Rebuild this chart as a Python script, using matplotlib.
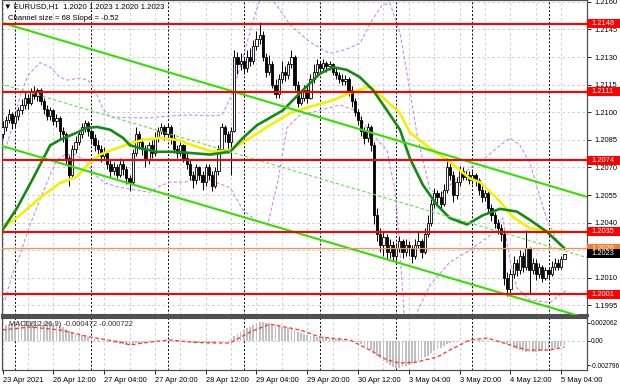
import matplotlib
matplotlib.use("Agg")
import matplotlib.pyplot as plt
import matplotlib.transforms as mtransforms
from matplotlib.patches import Rectangle
import numpy as np

plt.rcParams['font.family'] = ['Liberation Sans', 'DejaVu Sans']

# EURUSD H1 bars, prices in pips (12092 -> 1.2092); open of a bar = previous close
first_open = 12088
closes = [12092, 12096, 12099, 12094, 12098, 12101, 12104, 12108, 12105, 12111,
          12109, 12112, 12106, 12102, 12098, 12101, 12095, 12097, 12090, 12088,
          12075, 12066, 12080, 12084, 12088, 12092, 12094, 12090, 12086, 12082,
          12080, 12076, 12078, 12072, 12068, 12070, 12066, 12072, 12069, 12064,
          12062, 12078, 12088, 12084, 12080, 12074, 12082, 12078, 12086, 12090,
          12092, 12088, 12092, 12086, 12080, 12078, 12082, 12075, 12072, 12066,
          12063, 12070, 12066, 12062, 12070, 12066, 12060, 12068, 12080, 12092,
          12088, 12084, 12090, 12130, 12126, 12128, 12124, 12130, 12128, 12136,
          12140, 12142, 12130, 12122, 12126, 12115, 12110, 12118, 12122, 12120,
          12126, 12130, 12115, 12105, 12108, 12112, 12108, 12118, 12122, 12126,
          12124, 12127, 12125, 12126, 12122, 12120, 12118, 12117, 12118, 12112,
          12106, 12100, 12096, 12090, 12086, 12092, 12082, 12044, 12034, 12028,
          12032, 12024, 12028, 12022, 12026, 12030, 12024, 12028, 12026, 12022,
          12028, 12030, 12024, 12034, 12040, 12050, 12056, 12054, 12050, 12058,
          12070, 12066, 12055, 12062, 12068, 12065, 12066, 12063, 12066, 12063,
          12058, 12054, 12056, 12048, 12044, 12040, 12037, 12034, 12010, 12004,
          12012, 12018, 12014, 12022, 12016, 12026, 12014, 12018, 12012, 12016,
          12010, 12014, 12012, 12016, 12018, 12016, 12020, 12023]
highs = [12095, 12098, 12102, 12100, 12100, 12103, 12107, 12111, 12110, 12113,
         12114, 12113, 12113, 12108, 12104, 12103, 12102, 12099, 12098, 12092,
         12089, 12077, 12082, 12087, 12090, 12094, 12096, 12095, 12091, 12088,
         12085, 12082, 12081, 12079, 12074, 12073, 12072, 12075, 12074, 12071,
         12066, 12080, 12092, 12090, 12086, 12082, 12084, 12085, 12089, 12092,
         12094, 12093, 12094, 12093, 12088, 12082, 12084, 12083, 12078, 12074,
         12068, 12072, 12071, 12068, 12072, 12072, 12068, 12070, 12082, 12094,
         12093, 12090, 12092, 12134, 12133, 12132, 12130, 12134, 12135, 12139,
         12144, 12149, 12144, 12132, 12131, 12128, 12118, 12121, 12128, 12125,
         12128, 12134, 12131, 12117, 12112, 12115, 12114, 12121, 12126, 12129,
         12128, 12129, 12128, 12128, 12127, 12124, 12122, 12121, 12120, 12119,
         12114, 12108, 12102, 12098, 12092, 12094, 12093, 12084, 12048, 12037,
         12035, 12034, 12031, 12030, 12029, 12033, 12031, 12031, 12030, 12028,
         12031, 12035, 12031, 12037, 12044, 12053, 12059, 12058, 12057, 12061,
         12075, 12073, 12068, 12065, 12071, 12070, 12068, 12068, 12068, 12067,
         12064, 12060, 12058, 12057, 12050, 12046, 12042, 12039, 12036, 12013,
         12015, 12022, 12020, 12025, 12024, 12036, 12027, 12021, 12020, 12018,
         12017, 12016, 12016, 12019, 12021, 12020, 12022, 12023]
lows = [12086, 12090, 12094, 12091, 12092, 12096, 12099, 12102, 12102, 12104,
        12107, 12106, 12104, 12099, 12096, 12096, 12093, 12092, 12085, 12084,
        12072, 12060, 12064, 12078, 12082, 12086, 12089, 12087, 12083, 12079,
        12077, 12073, 12074, 12069, 12065, 12066, 12064, 12065, 12066, 12061,
        12057, 12061, 12076, 12080, 12077, 12070, 12072, 12075, 12076, 12084,
        12088, 12085, 12086, 12083, 12078, 12075, 12076, 12073, 12069, 12063,
        12059, 12061, 12063, 12058, 12060, 12063, 12057, 12059, 12066, 12078,
        12084, 12078, 12066, 12089, 12121, 12123, 12121, 12122, 12125, 12126,
        12134, 12137, 12128, 12119, 12120, 12113, 12108, 12108, 12116, 12117,
        12118, 12124, 12112, 12103, 12104, 12106, 12105, 12107, 12116, 12120,
        12121, 12122, 12122, 12123, 12120, 12118, 12116, 12115, 12115, 12109,
        12103, 12098, 12093, 12087, 12083, 12084, 12079, 12039, 12030, 12024,
        12022, 12020, 12021, 12019, 12020, 12024, 12021, 12022, 12022, 12018,
        12020, 12026, 12021, 12023, 12032, 12038, 12048, 12050, 12048, 12049,
        12056, 12063, 12051, 12053, 12060, 12063, 12063, 12061, 12061, 12060,
        12055, 12051, 12052, 12045, 12041, 12037, 12034, 12030, 12006, 12000,
        12002, 12010, 12011, 12012, 12013, 12014, 12002, 12012, 12009, 12010,
        12008, 12009, 12010, 12011, 12014, 12014, 12015, 12020]

# moving averages (bar index, pips)
green_ma_bars = [0, 4.6, 9.6, 15, 18.1, 23.5, 26.6, 29.8, 33.9, 38, 40.2, 43.3, 48.7, 53.7, 58.1,
                 65.4, 71.7, 75.7, 80.2, 88.3, 93.7, 100, 104.1, 108.5, 112.6, 116.7, 121.1, 125.2,
                 128.3, 132.4, 136.9, 140.9, 146.3, 151.3, 156.7, 162, 166.1, 171.5, 177]
green_ma_vals = [12036, 12048, 12064, 12082, 12085, 12089, 12091.5, 12092, 12090.5, 12086, 12082,
                 12080.5, 12078.5, 12078.5, 12078, 12077, 12078.5, 12086, 12093, 12101, 12110.5,
                 12121, 12124.5, 12123, 12119, 12112, 12101, 12090.5, 12075, 12060.5, 12049.5,
                 12042.5, 12039, 12044, 12047.5, 12046, 12041.5, 12035, 12026]
yellow_ma_bars = [0, 5.5, 11.8, 18.1, 23.5, 26.6, 30.7, 36.1, 40.2, 44.3, 49.6, 55, 60, 66.3, 71.7,
                  78, 83.3, 90.6, 96.9, 104.1, 109.4, 115.7, 119.8, 125.2, 128.3, 134.6, 140.9,
                  147.2, 150.4, 156.7, 160.8, 166.1, 171.5, 177]
yellow_ma_vals = [12037, 12044, 12053.5, 12061.5, 12065, 12071, 12077, 12080.5, 12083, 12085, 12086,
                  12085, 12082, 12078.5, 12079.5, 12086, 12092, 12099.5, 12103, 12106.5, 12110.5,
                  12114, 12108, 12099.5, 12089, 12080.5, 12073, 12064, 12062, 12051.5, 12043, 12037,
                  12035.5, 12035]

# envelope bands (purple dashed)
band_up_bars = [0.8, 3.3, 5.5, 8, 11.8, 15, 18.1, 20.3, 24.4, 26.9, 29.1, 31.7, 33.9, 40.2, 46.5,
                52.8, 59.1, 65.4, 69.1, 72.3, 76.4, 79.5, 81.7, 85.8, 90.6, 96.9, 103.1, 107.9,
                112.6, 116.4, 119.5, 122, 125.2, 128.3, 130.6, 134.6, 137.8, 142.5, 147.2, 151.9,
                156.7, 159.8, 163, 166.1, 169.3, 171.5, 174.6, 177.8]
band_up_vals = [12079.5, 12093, 12108.5, 12120, 12127, 12124.5, 12119, 12117.5, 12118.5, 12117.5,
                12112, 12101.5, 12097.5, 12097, 12097, 12098, 12098.5, 12098, 12098.5, 12109.5,
                12134, 12153, 12164, 12159.5, 12147.5, 12138, 12132, 12134, 12137.5, 12150, 12158,
                12159.5, 12143, 12112, 12087.5, 12058, 12055, 12063, 12069.5, 12075, 12082, 12086,
                12082, 12072.5, 12054, 12041.5, 12030.5, 12025]
band_lo_bars = [0.8, 3, 5.5, 8.7, 11.8, 15, 17.2, 19.7, 22.8, 26, 29.1, 32.3, 36.1, 41.1, 46.5,
                49.6, 52.8, 57.5, 62.2, 66.9, 71.7, 75.7, 80.2, 83.6, 86.8, 89.6, 93.7, 100, 106.3,
                111, 114.2, 118, 121.1, 123.6, 125.2, 126.5, 128.3, 130.6, 134.6, 140.9, 147.2,
                153.5, 157.6, 159.8, 162, 166.1, 172.4, 177.8]
band_lo_vals = [11998, 12011.5, 12022.5, 12039, 12052.5, 12066, 12074, 12077, 12077, 12074, 12066,
                12061.5, 12059.5, 12058, 12056.5, 12060, 12062, 12062, 12065, 12062, 12059, 12047,
                12040.5, 12039.5, 12063, 12091.5, 12098.5, 12101, 12104, 12101, 12093, 12085,
                12079.5, 12058, 12025, 11990, 11979, 11991.5, 12006, 12018.5, 12025, 12033,
                12042.5, 12020, 12004.5, 11998, 11996.5, 12003.5]

# regression channel
channel_bars = [-0.8, 184.1]
channel_upper = [12149, 12054]
channel_mid = [12115.5, 12021]
channel_lower = [12082, 11988]

levels = [1.2148, 1.2111, 1.2074, 1.2035, 1.2001]
level_orange = 1.2026
last_price = 1.2023

# MACD (units of 1e-4)
macd_main = [17, 18, 19, 20, 21, 22, 22, 22, 23, 22,
             22, 22, 21, 21, 21, 20, 20, 19, 18, 16,
             13, 11, 9, 8, 7, 6, 5, 4, 3, 2,
             1, 0, -1, -2, -2, -3, -3, -4, -4, -5,
             -5, -4, -3, -3, -3, -2, -2, -1, -1, -1,
             0, 0, 0, 0, -1, -1, -1, -2, -2, -2,
             -3, -3, -3, -3, -3, -3, -3, -3, -2, -1,
             0, 0, 1, 5, 8, 10, 12, 14, 16, 18,
             20, 21, 21, 20, 20, 19, 18, 17, 16, 15,
             14, 13, 12, 10, 9, 8, 6, 5, 5, 4,
             4, 4, 3, 3, 3, 2, 2, 1, 1, 0,
             0, -1, -2, -4, -6, -8, -11, -14, -17, -20,
             -23, -26, -28, -30, -31, -31, -30, -29, -28, -27,
             -25, -23, -21, -19, -17, -14, -12, -10, -8, -6,
             -4, -3, -2, -1, 0, 0, 0, 1, 1, 1,
             1, 1, 0, 0, 0, -1, -1, -1, -2, -4,
             -6, -8, -10, -11, -12, -13, -13, -13, -13, -12,
             -12, -11, -10, -9, -8, -7, -6, -4.7]
signal_bars = [0, 8.7, 18.1, 27.6, 37, 40.2, 46.5, 52.8, 59.1, 65.4, 71.7, 78, 84.3, 93.7, 100,
               109.4, 115.7, 121.1, 125.2, 130.6, 136.9, 140.9, 147.2, 152.6, 159.8, 165.2, 172.4, 177]
signal_vals = [12.3, 15.7, 12.3, 4.2, -1.5, -4.9, -1.5, 0.8, -1.5, -2.6, -2.6, 10, 19, 12.3, 4.2,
               0.8, -10.7, -22, -25.6, -24.4, -18.7, -10.7, 0.8, 3.1, -4.9, -10.7, -10.7, -7.2]

price_ticks = [1.2160, 1.2145, 1.2130, 1.2115, 1.2100, 1.2085, 1.2070, 1.2055, 1.2040,
               1.2025, 1.2010, 1.1995]
date_ticks = [0, 16, 32, 48, 64, 80, 96, 112, 128, 144, 160, 176]
date_labels = ['23 Apr 2021', '26 Apr 12:00', '27 Apr 04:00', '27 Apr 20:00', '28 Apr 12:00',
               '29 Apr 04:00', '29 Apr 20:00', '30 Apr 12:00', '3 May 04:00', '3 May 20:00',
               '4 May 12:00', '5 May 04:00']
day_starts = [4, 28, 52, 76, 100, 124, 148, 172]

W, H = 620, 388
fig = plt.figure(figsize=(W / 100, H / 100), dpi=100)
fig.patch.set_facecolor('white')
ax = fig.add_axes([2 / W, 73 / H, 585 / W, 315 / H])
ax2 = fig.add_axes([2 / W, 18 / H, 585 / W, 52 / H], sharex=ax)

xmin, xmax = -0.16, 184.1
ax.set_xlim(xmin, xmax)
ax.set_ylim(1.19898, 1.21610)
ax2.set_ylim(-0.003357, 0.0026)

grid_kw = dict(color='#c8c8c8', lw=0.6, ls=(0, (3, 3)), zorder=0)
sep_kw = dict(color='black', lw=0.7, ls=(0, (2, 2)), zorder=0.5)
for a in (ax, ax2):
    a.set_facecolor('white')
    for b in range(0, 185, 8):
        a.axvline(b, **grid_kw)
    for b in day_starts:
        a.axvline(b, **sep_kw)
    for s in a.spines.values():
        s.set_color('#505050')
        s.set_linewidth(0.9)
for p in price_ticks:
    ax.axhline(p, **grid_kw)
ax2.axhline(0, **grid_kw)
ax.spines['bottom'].set_linewidth(2.2)
ax2.spines['top'].set_linewidth(1.5)

# candles
x = np.arange(len(closes))
c = np.array(closes) / 1e4
o = np.array([first_open] + closes[:-1]) / 1e4
hi = np.array(highs) / 1e4
lo = np.array(lows) / 1e4
up = c >= o
ax.vlines(x, lo, hi, color='black', lw=0.7, zorder=3)
ax.bar(x[up], (c - o)[up], bottom=o[up], width=0.7, color='white', edgecolor='black', lw=0.6, zorder=3.2)
ax.bar(x[~up], (c - o)[~up], bottom=o[~up], width=0.7, color='black', edgecolor='black', lw=0.6, zorder=3.2)

# indicators
ax.plot(band_up_bars, np.array(band_up_vals) / 1e4, color='#c58cf0', lw=0.8, ls=(0, (3, 2)), zorder=2)
ax.plot(band_lo_bars, np.array(band_lo_vals) / 1e4, color='#c58cf0', lw=0.8, ls=(0, (3, 2)), zorder=2)
ax.plot(yellow_ma_bars, np.array(yellow_ma_vals) / 1e4, color='#f5f000', lw=1.9, zorder=4)
ax.plot(green_ma_bars, np.array(green_ma_vals) / 1e4, color='#138a13', lw=1.9, zorder=4.1)

# channel
ax.plot(channel_bars, np.array(channel_upper) / 1e4, color='#33e000', lw=1.5, zorder=4.2)
ax.plot(channel_bars, np.array(channel_lower) / 1e4, color='#33e000', lw=1.5, zorder=4.2)
ax.plot(channel_bars, np.array(channel_mid) / 1e4, color='#66dd55', lw=0.8, ls=(0, (3, 2)), zorder=4.2)

# levels
for p in levels:
    ax.axhline(p, color='#ff0000', lw=1.5, zorder=4.3)
ax.axhline(level_orange, color='#ff8c50', lw=0.9, zorder=4.3)

ax.set_xlim(xmin, xmax)

# right price axis
ax.yaxis.tick_right()
ax.set_yticks(price_ticks)
ax.set_yticklabels(['%.4f' % p for p in price_ticks])
ax.tick_params(axis='y', length=3, width=0.6, pad=2, labelsize=5.4, colors='black')
ax.tick_params(axis='x', bottom=False, labelbottom=False)

trans = mtransforms.blended_transform_factory(ax.transAxes, ax.transData)
box_h = 9 / 18400
box_w = 33 / 585


def price_box(p, fc, txt_color='white'):
    ax.add_patch(Rectangle((1.0, p - box_h / 2), box_w, box_h, transform=trans,
                           facecolor=fc, edgecolor='none', clip_on=False, zorder=6))
    ax.text(1.0 + 4 / 585, p, '%.4f' % p, transform=trans, ha='left', va='center',
            fontsize=5.4, color=txt_color, clip_on=False, zorder=7)


for p in levels:
    price_box(p, '#ff0000')
price_box(level_orange, '#ff7a2a')
price_box(last_price, '#000000')

# MACD panel
ax2.bar(x, np.array(macd_main) / 1e4, width=0.55, color='#c0c0c0', zorder=2)
ax2.plot(signal_bars, np.array(signal_vals) / 1e4, color='#ff3030', lw=0.9, ls=(0, (3, 2)), zorder=3)
ax2.yaxis.tick_right()
ax2.set_yticks([0.002062, 0.0, -0.002796])
ax2.set_yticklabels(['0.002062', '0.00', '-0.002796'])
ax2.tick_params(axis='y', length=2, width=0.6, pad=1, labelsize=4.7)
ax2.set_xticks(date_ticks)
ax2.set_xticklabels(date_labels)
ax2.tick_params(axis='x', length=3, width=0.6, pad=2, labelsize=5.4)
for lbl in ax2.get_xticklabels():
    lbl.set_horizontalalignment('left')
ax2.set_xlim(xmin, xmax)

ax2.text(7 / 585, 1 - 6 / 52, 'MACD(12,26,9) -0.000472 -0.000722', transform=ax2.transAxes,
         ha='left', va='center', fontsize=5.4, color='#303030')

fig.text(4 / W, 1 - 7 / H, '\u25bc EURUSD,H1  1.2020 1.2023 1.2020 1.2023', ha='left', va='center',
         fontsize=5.6, color='black')
fig.text(8 / W, 1 - 19 / H, 'Channel size = 68 Slope = -0.52', ha='left', va='center',
         fontsize=5.6, color='black')

fig.savefig('out.png', dpi=100, facecolor='white')
